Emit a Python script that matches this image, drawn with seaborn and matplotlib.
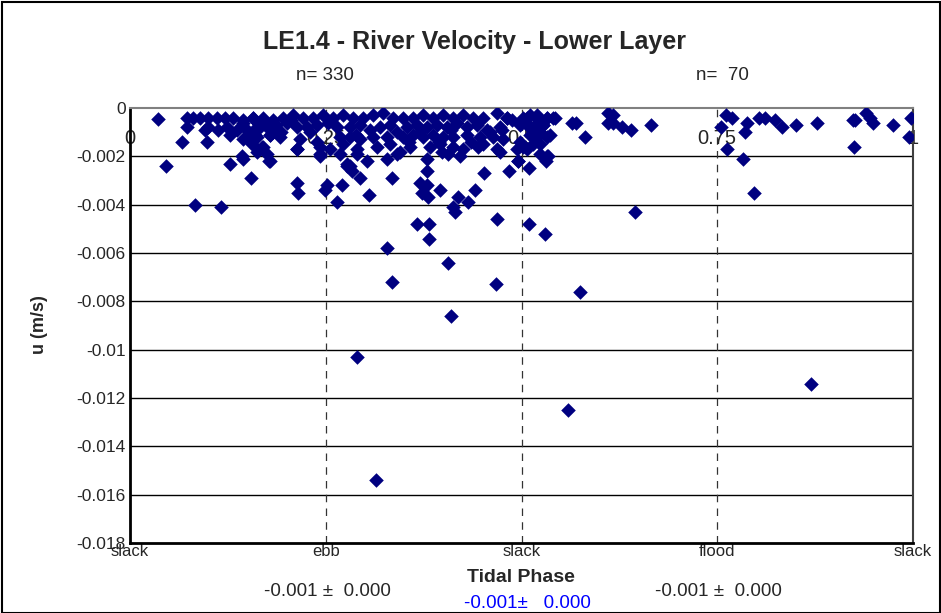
import matplotlib
matplotlib.use("Agg")
import matplotlib.pyplot as plt
import seaborn as sns
import pandas as pd
from matplotlib.patches import Rectangle

# ---------------- data ----------------
phase = [
    0.036, 0.046, 0.073, 0.080, 0.089, 0.100, 0.111, 0.121, 0.131, 0.073,
    0.066, 0.096, 0.100, 0.112, 0.124, 0.128, 0.137, 0.144, 0.098, 0.083,
    0.116, 0.128, 0.143, 0.155, 0.178, 0.157, 0.164, 0.162, 0.156, 0.169,
    0.179, 0.213, 0.243, 0.213, 0.215, 0.249,
    # dense band left half
    0.144, 0.157, 0.170, 0.183, 0.196, 0.208, 0.221, 0.234, 0.247, 0.259,
    0.272, 0.285, 0.298, 0.310, 0.323, 0.336,
    0.149, 0.162, 0.175, 0.187, 0.200, 0.213, 0.226, 0.239, 0.264, 0.281,
    0.294, 0.307, 0.319, 0.332, 0.341,
    0.149, 0.162, 0.179, 0.192, 0.217, 0.239, 0.268, 0.281, 0.294, 0.310, 0.328,
    0.170, 0.213, 0.243, 0.255, 0.272, 0.290, 0.315, 0.332,
    0.144, 0.179, 0.243, 0.268, 0.290, 0.303, 0.328, 0.341, 0.277, 0.281,
    0.144, 0.162, 0.175, 0.183, 0.160, 0.193, 0.206, 0.230, 0.253, 0.288,
    # dense band right half
    0.349, 0.361, 0.374, 0.387, 0.400, 0.413, 0.425, 0.438, 0.451, 0.469,
    0.481, 0.507, 0.520, 0.533, 0.543,
    0.354, 0.367, 0.379, 0.392, 0.405, 0.418, 0.430, 0.443, 0.456, 0.473,
    0.498, 0.511, 0.527,
    0.349, 0.361, 0.374, 0.387, 0.400, 0.413, 0.430, 0.447, 0.464, 0.520, 0.533,
    0.358, 0.383, 0.396, 0.413, 0.425, 0.451, 0.469, 0.502, 0.524,
    0.379, 0.406, 0.421, 0.473, 0.496, 0.533,
    0.356, 0.370, 0.394, 0.410, 0.436, 0.460, 0.477, 0.345, 0.398, 0.445,
    # near slack (0.5)
    0.481, 0.488, 0.475, 0.502, 0.511, 0.520, 0.533, 0.540, 0.507, 0.515,
    0.524, 0.511, 0.520, 0.498, 0.515, 0.507, 0.494, 0.524, 0.528, 0.536,
    0.564, 0.570, 0.581, 0.611, 0.617, 0.611, 0.617, 0.628, 0.640, 0.665,
    0.484, 0.496, 0.510, 0.534, 0.531, 0.645,
    # deeper points
    0.277, 0.284, 0.294, 0.252, 0.271, 0.264, 0.305, 0.335, 0.370, 0.379,
    0.373, 0.381, 0.379, 0.396, 0.419, 0.413, 0.415, 0.432, 0.441, 0.452,
    0.367, 0.382, 0.382, 0.328, 0.406, 0.335, 0.467, 0.469, 0.510, 0.530,
    0.575, 0.410, 0.290, 0.559, 0.314,
    # flood half
    0.761, 0.769, 0.755, 0.762, 0.788, 0.785, 0.783, 0.797, 0.803, 0.811,
    0.824, 0.833, 0.851, 0.877, 0.923, 0.926, 0.925, 0.940, 0.945, 0.949,
    0.974, 0.997, 0.995, 0.870,
]
velocity = [
    -0.00047, -0.0024, -0.0004, -0.0004, -0.0004, -0.0004, -0.0004, -0.0004, -0.0004, -0.0008,
    -0.0014, -0.0009, -0.0008, -0.0009, -0.0008, -0.0011, -0.0009, -0.0006, -0.0014, -0.0040,
    -0.0041, -0.0023, -0.0020, -0.0029, -0.0022, -0.0004, -0.0006, -0.0009, -0.0015, -0.0016,
    -0.0011, -0.0017, -0.0019, -0.0031, -0.0035, -0.0034,
    -0.0005, -0.0004, -0.0004, -0.0005, -0.0004, -0.0003, -0.0004, -0.0004, -0.0003, -0.0004,
    -0.0003, -0.0004, -0.0004, -0.0003, -0.0002, -0.0004,
    -0.0009, -0.0008, -0.0008, -0.0007, -0.0006, -0.0008, -0.0008, -0.0007, -0.0008, -0.0008,
    -0.0007, -0.0009, -0.0008, -0.0007, -0.0010,
    -0.0012, -0.0012, -0.0011, -0.0012, -0.0013, -0.0014, -0.0012, -0.0012, -0.0013, -0.0012, -0.0012,
    -0.0016, -0.0017, -0.0016, -0.0017, -0.0015, -0.0017, -0.0016, -0.0015,
    -0.0021, -0.0022, -0.0020, -0.0019, -0.0019, -0.0022, -0.0021, -0.0019, -0.0023, -0.0024,
    -0.0013, -0.0018, -0.0019, -0.0010, -0.0011, -0.0010, -0.0005, -0.0010, -0.0006, -0.0011,
    -0.0004, -0.0004, -0.0003, -0.0004, -0.0003, -0.0004, -0.0003, -0.0004, -0.0004, -0.0002,
    -0.0004, -0.0004, -0.0003, -0.0004, -0.0004,
    -0.0008, -0.0007, -0.0008, -0.0007, -0.0008, -0.0006, -0.0008, -0.0007, -0.0009, -0.0008,
    -0.0007, -0.0008, -0.0007,
    -0.0012, -0.0011, -0.0012, -0.0011, -0.0012, -0.0012, -0.0011, -0.0012, -0.0012, -0.0011, -0.0012,
    -0.0016, -0.0016, -0.0015, -0.0016, -0.0017, -0.0015, -0.0017, -0.0016, -0.0015,
    -0.0021, -0.0019, -0.0020, -0.0018, -0.0022, -0.0020,
    -0.0014, -0.0010, -0.0014, -0.0009, -0.0014, -0.0010, -0.0013, -0.0018, -0.0018, -0.0016,
    -0.0004, -0.0005, -0.0009, -0.0004, -0.0003, -0.0004, -0.0004, -0.0004, -0.0007, -0.0008,
    -0.0010, -0.0011, -0.0012, -0.0014, -0.0015, -0.0017, -0.0017, -0.0019, -0.0007, -0.0011,
    -0.0006, -0.0006, -0.0012, -0.0002, -0.0003, -0.0006, -0.0006, -0.0008, -0.0009, -0.0007,
    -0.0026, -0.0022, -0.0025, -0.0020, -0.0022, -0.0043,
    -0.0024, -0.0026, -0.0029, -0.0032, -0.0032, -0.0039, -0.0036, -0.0029, -0.0031, -0.0032,
    -0.0035, -0.0037, -0.0026, -0.0034, -0.0037, -0.0041, -0.0043, -0.0039, -0.0034, -0.0027,
    -0.0048, -0.0048, -0.0054, -0.0058, -0.0064, -0.0072, -0.0073, -0.0046, -0.0048, -0.0052,
    -0.0076, -0.0086, -0.0103, -0.0125, -0.0154,
    -0.0003, -0.0004, -0.0008, -0.0017, -0.0006, -0.0010, -0.0021, -0.0035, -0.0004, -0.0004,
    -0.0005, -0.0008, -0.0007, -0.0006, -0.0005, -0.0005, -0.0016, -0.0002, -0.0004, -0.0006,
    -0.0007, -0.0004, -0.0012, -0.0114,
]

tick_vals = [0, 0.25, 0.5, 0.75, 1]
tick_nums = ["0", "0.25", "0.5", "0.75", "1"]
phase_names = ["slack", "ebb", "slack", "flood", "slack"]
y_ticks = [0, -0.002, -0.004, -0.006, -0.008, -0.01, -0.012, -0.014, -0.016, -0.018]
y_labels = ["0", "-0.002", "-0.004", "-0.006", "-0.008", "-0.01", "-0.012", "-0.014", "-0.016", "-0.018"]
title = "LE1.4 - River Velocity - Lower Layer"
n_labels = ["n= 330", "n=  70"]
stats_labels = ["-0.001 \u00b1  0.000", "-0.001 \u00b1  0.000"]
stats_all = "-0.001\u00b1   0.000"

df = pd.DataFrame({"phase": phase, "u": velocity})

# ---------------- figure ----------------
sns.set_style("white")
plt.rcParams["font.family"] = ["Liberation Sans", "DejaVu Sans"]

fig = plt.figure(figsize=(9.41, 6.13), dpi=100)
ax = fig.add_axes([130 / 941, 1 - 543 / 613, (913 - 130) / 941, (543 - 108) / 613])

# grid lines
for yv in y_ticks[1:-1]:
    ax.axhline(yv, color="black", lw=1.0, zorder=1)
for xv in tick_vals[1:-1]:
    ax.axvline(xv, color="#333333", lw=0.9, ls=(0, (6, 5)), zorder=1)

sns.scatterplot(data=df, x="phase", y="u", marker="D", s=55, color="#000080",
                linewidth=0, ax=ax, zorder=3, legend=False)

ax.set_xlim(0, 1)
ax.set_ylim(-0.018, 0)
ax.set_yticks(y_ticks)
ax.set_yticklabels(y_labels, fontsize=12.5)
ax.set_xticks(tick_vals)
ax.set_xticklabels(phase_names, fontsize=12)
ax.tick_params(axis="x", length=0, pad=1)
ax.tick_params(axis="y", length=0, pad=3)
ax.set_xlabel("")
ax.set_ylabel("")

for sp in ["left", "bottom"]:
    ax.spines[sp].set_color("black")
    ax.spines[sp].set_linewidth(2)
ax.spines["top"].set_color("#808080")
ax.spines["top"].set_linewidth(1.5)
ax.spines["right"].set_color("#404040")
ax.spines["right"].set_linewidth(1.5)

# numeric tick labels placed inside, along the zero line
for xv, lab in zip(tick_vals, tick_nums):
    ax.text(xv, -0.00125, lab, ha="center", va="center", fontsize=14.5, zorder=2)

# texts
fig.text(474 / 941, 1 - 42 / 613, title, ha="center", va="center",
         fontsize=18, fontweight="bold")
fig.text(325 / 941, 1 - 76 / 613, n_labels[0], ha="center", va="center", fontsize=13.5)
fig.text(722 / 941, 1 - 76 / 613, n_labels[1], ha="center", va="center", fontsize=13.5)
fig.text(40 / 941, 1 - 325 / 613, "u (m/s)", ha="center", va="center", rotation=90,
         fontsize=13, fontweight="bold")
fig.text(521 / 941, 1 - 578 / 613, "Tidal Phase", ha="center", va="center",
         fontsize=14, fontweight="bold")
fig.text(327 / 941, 1 - 591 / 613, stats_labels[0], ha="center", va="center", fontsize=13.5)
fig.text(718 / 941, 1 - 591 / 613, stats_labels[1], ha="center", va="center", fontsize=13.5)
fig.text(527 / 941, 1 - 603 / 613, stats_all, ha="center", va="center", fontsize=13.5,
         color="#0000FF")

# outer frame
fig.patches.append(Rectangle((2 / 941, 0), 938 / 941, 1 - 2 / 613, transform=fig.transFigure,
                             fill=False, edgecolor="black", lw=1.5))

fig.savefig("out.png", dpi=100)
